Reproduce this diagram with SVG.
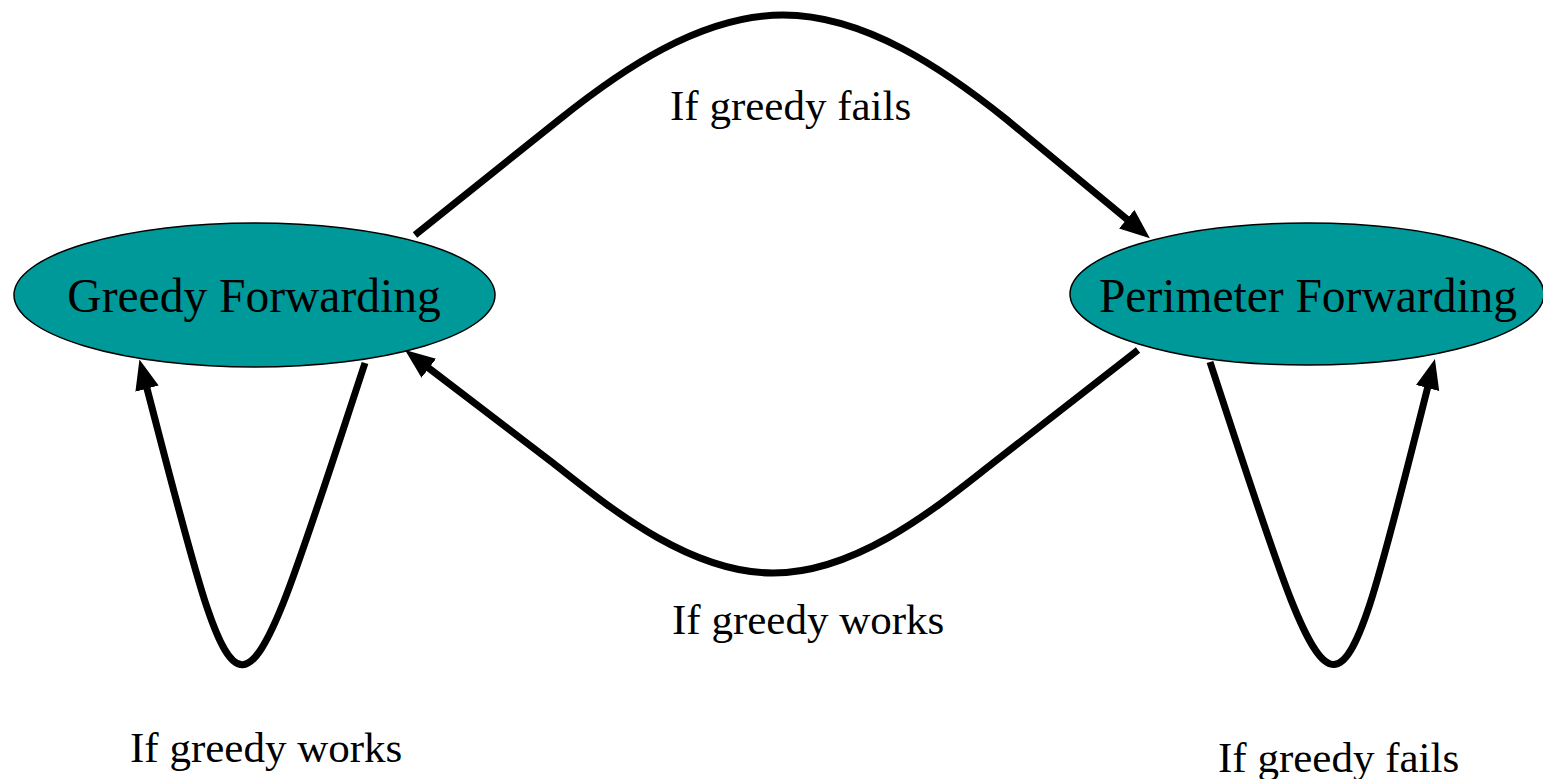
<svg xmlns="http://www.w3.org/2000/svg" width="1543" height="779" viewBox="0 0 1543 779">
<style>
.node{fill:#009999;stroke:#000;stroke-width:1.5}
.name{font-family:"Liberation Serif","Times New Roman",serif;font-size:47.5px;fill:#000;text-anchor:middle}
.lbl{font-family:"Liberation Serif","Times New Roman",serif;font-size:43px;fill:#000}
.edge{fill:none;stroke:#000;stroke-width:7;marker-end:url(#ah)}
</style>
<defs>
<marker id="ah" markerUnits="userSpaceOnUse" markerWidth="34" markerHeight="28" refX="12" refY="12" orient="auto" viewBox="0 0 34 28">
<polygon points="0,0 30,12 0,24" fill="#000"/>
</marker>
</defs>
<rect width="1543" height="779" fill="#fff"/>
<g id="greedy">
<ellipse class="node" cx="254.5" cy="295" rx="240.5" ry="72"/>
<text class="name" x="254" y="312">Greedy Forwarding</text>
</g>
<g id="perimeter">
<ellipse class="node" cx="1307" cy="294" rx="237" ry="71"/>
<text class="name" x="1308" y="312">Perimeter Forwarding</text>
</g>
<g id="connectors">
<path class="edge" d="M415,235 L560,119 C620,71 700,15 783,15 C866,15 946,71 1006,119 L1136,226.8"/>
<path class="edge" d="M1138,350 L993,463 C943,502 860,573 773,573 C686,573 603,502 553,463 L419.3,360.9"/>
<path class="edge" d="M365,363 C233,763 245,763 144,377"/>
<path class="edge" d="M1210,362 C1342,763 1332.4,763 1430.5,376.4"/>
</g>
<g id="labels">
<text class="lbl" x="670" y="120">If greedy fails</text>
<text class="lbl" x="672" y="634">If greedy works</text>
<text class="lbl" x="130" y="762">If greedy works</text>
<text class="lbl" x="1218" y="772">If greedy fails</text>
</g>
</svg>
